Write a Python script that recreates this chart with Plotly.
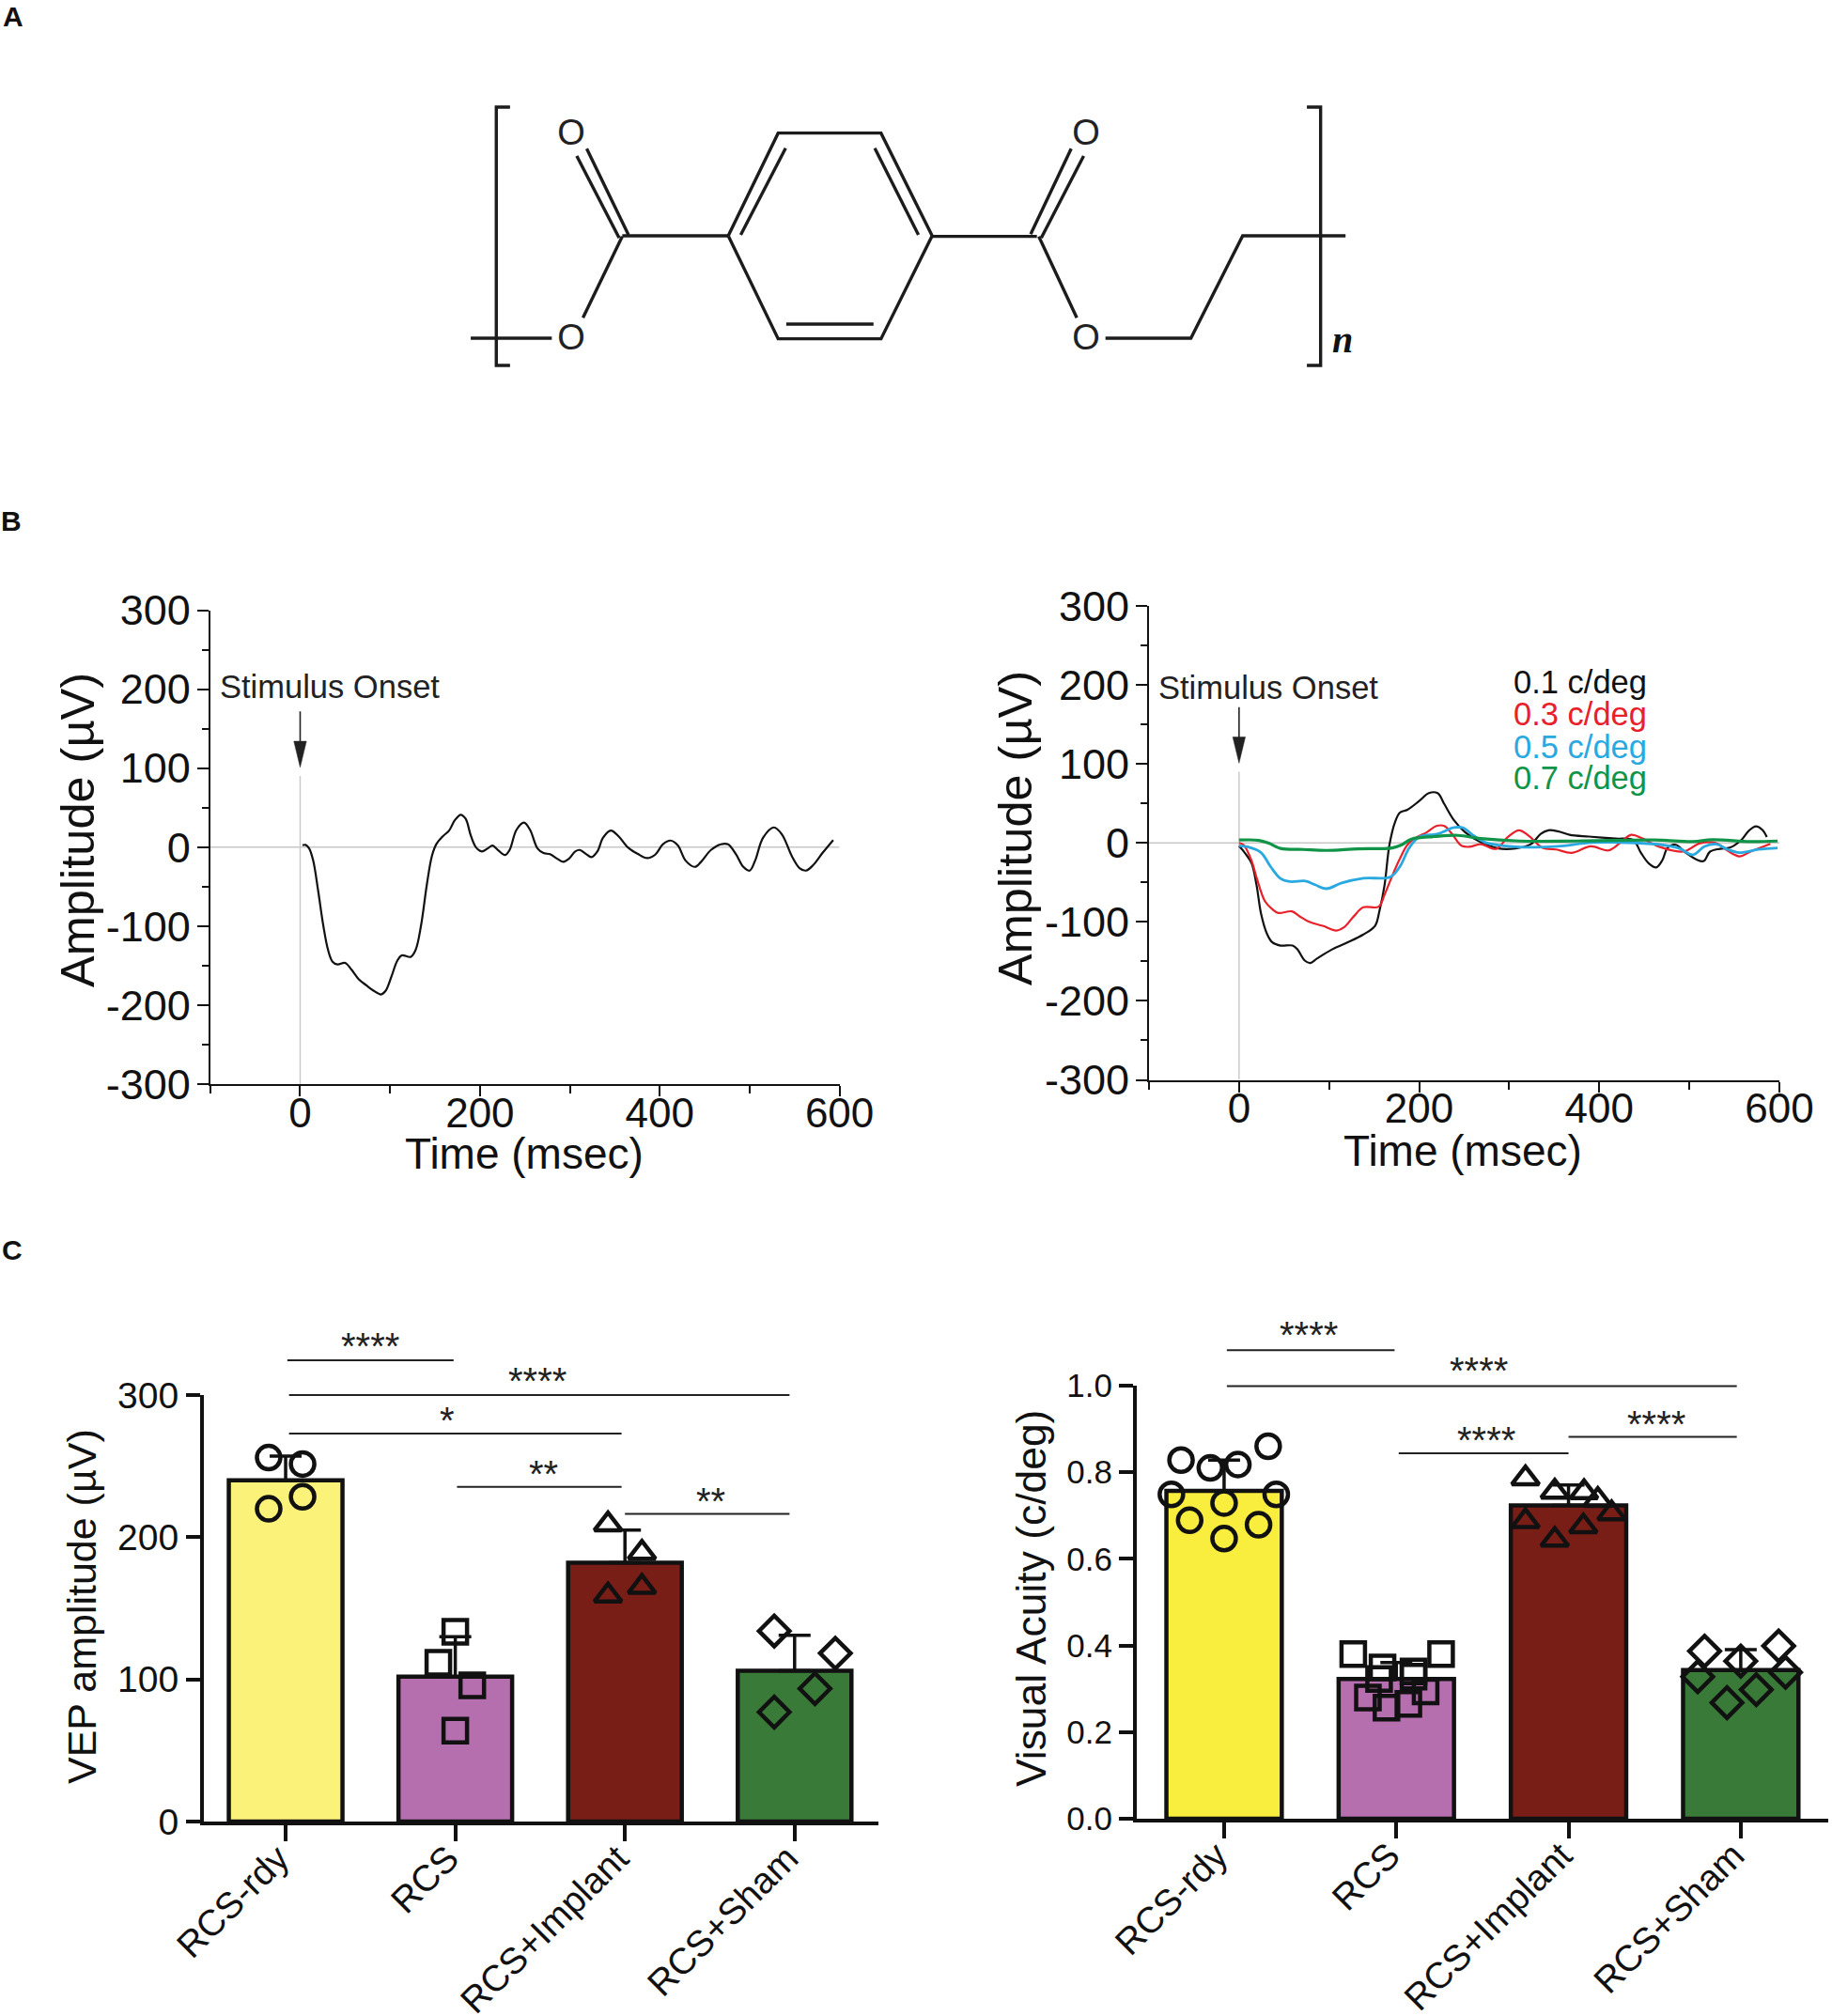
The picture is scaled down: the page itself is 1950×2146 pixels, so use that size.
import plotly.graph_objects as go

W, H = 1950, 2146
FONT = "Liberation Sans"

# ---------- Panel A: structure (bond polylines in the structure axis units)
bonds = [
    [(155,72),(133,72),(133,897),(155,897)],
    [(1433,72),(1455,72),(1455,897),(1433,897)],
    [(92,810),(222,810)],
    [(262,228),(330,490)], [(278,205),(345,480)],
    [(335,485),(272,745)],
    [(335,483),(505,483)],
    [(505,483),(585,155),(750,155),(832,483),(750,812),(585,812),(505,483)],
    [(525,480),(597,203)], [(740,203),(810,480)], [(598,765),(738,765)],
    [(832,485),(1000,485)],
    [(990,478),(1055,205)], [(1007,490),(1075,228)],
    [(1003,485),(1064,745)],
    [(1110,810),(1247,810),(1330,483),(1495,483)],
]
oxygens = [(253,164),(1079,164),(253,817),(1079,817)]

# ---------- Panel B
t_left = [2.6,6,10,14.5,20,25.7,31,36,41.5,50,57,65,73.7,82,90,95,101.5,108,113,123,128.5,134.5,141,146.5,151.6,159,165.7,172,178.6,184,190,195.7,202,208.6,214,220,228,233,240.7,249,255.7,264,270.7,278,286,293,299,306,311,318,324,330.6,337,345.6,354,365,375.7,386,395,403.6,412,420,429,439,446,457,468,476,485,493,500,506,515,527,536,547,555.5,562.7,570.5,581,593]
v_left = [2.4,2.8,-1.6,-17,-55,-99,-130,-145,-148.5,-146.5,-155,-167,-175,-182,-186.5,-182,-164,-144,-137,-139,-130,-99,-47,-11.5,4,14,21,34,41,36,14,-0.4,-5.5,-1.6,2,-3.6,-10,-3.6,22,31,22,-1.6,-7.5,-9,-14.7,-18.6,-14.7,-5.5,-3.6,-8.7,-12.7,-5.5,12,21,14,-0.8,-8.7,-13.9,-9.5,3.6,8.3,2.4,-17.4,-25,-18.6,-3.6,3.6,3.6,-9.5,-25,-29.7,-17.4,12,25,16,-11.5,-26.5,-29.7,-23,-7.5,9]

t_black = [0,7,14,19.5,24.4,31,37,46,59.5,65,73,79,86.5,101.5,118.6,138,151,156,161.5,167,173.4,178.6,187,200,210.7,220.5,228,238.5,251,268.5,288,307,324,335,343.5,354,367,388.4,418.4,437.7,446,455,463.4,470,476,485,495.5,508,516,523,534,545,557.6,566,574,581,586]
v_black = [-4,-13.5,-26,-54,-89.5,-115,-126,-130,-130,-135,-149,-152,-146.5,-136,-127,-116,-105,-85.5,-54,-2.4,27,38.4,42,53,63,63,49,29,13.5,0.8,-7,-7,-1.6,11.5,16,14.7,10.3,8,5.5,3.6,-12,-26,-31,-22,-6,-2.4,-12,-21,-23,-11,-7.5,-6,3.6,15.4,21,16.6,7.5]
t_red = [0,5,13.7,20,28.7,37,43.7,58.7,67,78,93,108,116.5,127,138,155,161.5,170,178.6,187,196,208.6,219,228,236.4,247,255.7,268.5,285.6,298.5,311,322,337,352,369,390.6,410,422.7,435.5,448,465.5,493,512,530,542.6,555.5,568,590]
v_red = [0,-2.4,-22,-46,-73.7,-84,-88.7,-86.7,-92.7,-100,-105,-111,-107,-93.5,-81.6,-80.8,-65.7,-42,-20,-2.4,6.3,13.5,21.4,21.4,11.5,-3.6,-5,-1.6,-7.5,7.5,16,8.7,-6.3,-8.3,-12.7,-4.4,-9.5,-0.4,10.3,5.5,-4.4,-11,-0.4,-0.4,-10,-17,-11,-1.2]
t_blue = [0,9.4,24.4,35,46,56.5,73.7,84.4,97,114,138,168,178.6,189,200,221,238.5,249,260,273,294,324,354,392.7,440,470,489,504,517,530,542.6,555.5,577,598]
v_blue = [-3.6,-5,-12.3,-30,-45,-49,-48.3,-53,-58,-50.7,-44.7,-43,-30,-6.3,7.5,11.5,19.4,19,9.5,0.8,-3.6,-5.5,-4.4,0.4,0,-2.4,-7,-15,-4.4,-1.6,-8.3,-12.3,-8.3,-6.3]
t_green = [0,22,33,46,71.5,97,131.5,170,180.7,191.4,217,243,268.5,311,375.6,461,504,525,568,598]
v_green = [3.6,3.2,-0.4,-7,-8.3,-9.5,-7.5,-6.3,-2.4,4.8,8,9.5,5.5,2.4,2.4,3.6,1.6,4,1.6,2.4]

amp_ticks = [-300,-200,-100,0,100,200,300]
amp_ticktext = ["-300","-200","-100","0","100","200","300"]
legend_labels = ["0.1 c/deg","0.3 c/deg","0.5 c/deg","0.7 c/deg"]
legend_colors = ["#111111","#e8202a","#29a9e0","#0f9448"]
legend_y = [204,163,122,82]

# ---------- Panel C
categories = ["RCS-rdy","RCS","RCS+Implant","RCS+Sham"]
bar_colors_left = ["#fbf27a","#b56fae","#781e16","#3a7a38"]
bar_colors_right = ["#f9ee3d","#b56fae","#781e16","#3a7a38"]
symbols = ["circle-open","square-open","triangle-up-open","diamond-open"]

vep_mean = [240,102,182,106]
vep_err = [17,28,23,25]
vep_pts_x = [[-.1,.1,.1,-.1],[0,-.1,.1,0],[-.1,.1,.1,-.1],[-.12,.24,.12,-.12]]
vep_pts_y = [[256,251.5,228.5,220],[133.4,111.7,95.8,64],[209,189,165,159],[134,118.4,93.5,77]]
vep_sig = [(0.01,0.99,324.5),(0.02,2.97,300),(0.02,1.98,273),(1.01,1.98,235.5),(2.0,2.97,216.5)]
vep_sig_text = ["****","****","*","**","**"]
vep_sig_label_x = [0.499,1.484,0.953,1.52,2.507]
vep_sig_label_y = [334.5,310,282,244.5,225.5]

va_mean = [0.757,0.3225,0.7235,0.3435]
va_err = [0.071,0.038,0.047,0.047]
va_pts_x = [[-.25,-.08,.08,.256,-.306,.303,0,-.2,.2,0],
            [-.25,.26,-.08,.1,-.1,.1,-.165,.17,.07,-.057],
            [-.25,-.08,.09,.17,.25,-.25,.086,-.08],
            [-.21,0,.22,-.25,.26,.09,-.08]]
va_pts_y = [[.828,.81,.818,.86,.749,.749,.729,.689,.679,.647],
            [.38,.38,.349,.34,.3225,.328,.28,.294,.265,.2565],
            [.786,.755,.754,.736,.705,.687,.675,.644],
            [.387,.364,.399,.328,.338,.298,.268]]
va_sig = [(0.016,0.99,1.0817),(0.016,2.977,0.999),(1.014,2.0,0.844),(2.0,2.977,0.882)]
va_sig_text = ["****","****","****","****"]
va_sig_label_x = [0.492,1.477,1.52,2.508]
va_sig_label_y = [1.118,1.035,0.874,0.912]

# arrow marking stimulus onset (msec, µV)
arrow_stem_y = [172,130]
arrow_head_x = [-7,0,7,-7]
arrow_head_y = [134,101,134,134]


def xdom(a, b):
    return [a / W, b / W]

def ydom(top, bottom):
    return [1 - bottom / H, 1 - top / H]

fig = go.Figure()

# ----- structure
for b in bonds:
    fig.add_trace(go.Scatter(x=[p[0] for p in b], y=[p[1] for p in b], mode="lines",
                             line=dict(color="#1c1c1c", width=3.4), xaxis="x", yaxis="y",
                             showlegend=False, hoverinfo="skip"))
fig.add_trace(go.Scatter(x=[p[0] for p in oxygens], y=[p[1] for p in oxygens], mode="text",
                         text=["O"] * 4, textposition="middle center",
                         textfont=dict(family=FONT, size=38, color="#222222"),
                         xaxis="x", yaxis="y", showlegend=False, hoverinfo="skip"))
fig.add_annotation(x=1490, y=816, xref="x", yref="y", text="<b><i>n</i></b>", showarrow=False,
                   font=dict(family="Liberation Serif", size=40, color="#111111"))

# ----- B panels
def vep_panel(xa, ya, curves, stim_y):
    fig.add_trace(go.Scatter(x=[-100, 600], y=[0, 0], mode="lines", line=dict(color="#c8c8c8", width=1.6),
                             xaxis=xa, yaxis=ya, showlegend=False, hoverinfo="skip"))
    fig.add_trace(go.Scatter(x=[0, 0], y=[90, -300], mode="lines", line=dict(color="#c8c8c8", width=1.4),
                             xaxis=xa, yaxis=ya, showlegend=False, hoverinfo="skip"))
    for t, v, c, w in curves:
        fig.add_trace(go.Scatter(x=t, y=v, mode="lines", line=dict(color=c, width=w, shape="spline", smoothing=1.0),
                                 xaxis=xa, yaxis=ya, showlegend=False, hoverinfo="skip"))
    fig.add_trace(go.Scatter(x=[0, 0], y=arrow_stem_y, mode="lines", line=dict(color="#222222", width=1.6),
                             xaxis=xa, yaxis=ya, showlegend=False, hoverinfo="skip"))
    fig.add_trace(go.Scatter(x=arrow_head_x, y=arrow_head_y, mode="lines", fill="toself", fillcolor="#222222",
                             line=dict(color="#222222", width=0.5),
                             xaxis=xa, yaxis=ya, showlegend=False, hoverinfo="skip"))
    fig.add_annotation(x=33, y=stim_y, xref=xa, yref=ya, text="Stimulus Onset", showarrow=False,
                       font=dict(family=FONT, size=34.5, color="#222222"))

vep_panel("x2", "y2", [(t_left, v_left, "#111111", 2.2)], 203)
vep_panel("x3", "y3", [(t_black, v_black, "#111111", 2.2), (t_red, v_red, "#e8202a", 2.2),
                       (t_blue, v_blue, "#29a9e0", 2.8), (t_green, v_green, "#0f9448", 3.2)], 197)
for lab, col, yy in zip(legend_labels, legend_colors, legend_y):
    fig.add_annotation(x=303, y=yy, xref="x3", yref="y3", text=lab, showarrow=False, xanchor="left",
                       font=dict(family=FONT, size=34.5, color=col))

# ----- C panels
def bar_panel(xa, ya, xo, yo, mean, err, colors, ptsx, ptsy, lines, lx, ly, labels):
    fig.add_trace(go.Bar(x=[0, 1, 2, 3], y=mean, width=0.67, xaxis=xa, yaxis=ya,
                         marker=dict(color=colors, line=dict(color="#111111", width=4.5)),
                         error_y=dict(type="data", array=err, arrayminus=[0] * 4, color="#111111", thickness=3.5, width=17),
                         showlegend=False, hoverinfo="skip"))
    for i in range(4):
        fig.add_trace(go.Scatter(x=[i + d for d in ptsx[i]], y=ptsy[i], mode="markers", xaxis=xa, yaxis=ya,
                                 marker=dict(symbol=symbols[i], size=25, color="#111111", line=dict(color="#111111", width=4.5)),
                                 cliponaxis=False, showlegend=False, hoverinfo="skip"))
    for l in lines:
        fig.add_trace(go.Scatter(x=[l[0], l[1]], y=[l[2], l[2]], mode="lines", line=dict(color="#222222", width=2),
                                 xaxis=xo, yaxis=yo, showlegend=False, hoverinfo="skip"))
    for x, y, s in zip(lx, ly, labels):
        fig.add_annotation(x=x, y=y, xref=xo, yref=yo, text=s, showarrow=False,
                           font=dict(family=FONT, size=40, color="#222222"))

bar_panel("x4", "y4", "x7", "y7", vep_mean, vep_err, bar_colors_left, vep_pts_x, vep_pts_y, vep_sig,
          vep_sig_label_x, vep_sig_label_y, vep_sig_text)
bar_panel("x5", "y5", "x8", "y8", va_mean, va_err, bar_colors_right, va_pts_x, va_pts_y, va_sig,
          va_sig_label_x, va_sig_label_y, va_sig_text)

# page-wide helper axis: titles and panel letters
fig.add_trace(go.Scatter(x=[0], y=[0], mode="markers", marker=dict(opacity=0), xaxis="x6", yaxis="y6",
                         showlegend=False, hoverinfo="skip"))
for txt, px, py, sz in [("Amplitude (µV)", 82, 884, 50.5), ("Amplitude (µV)", 1080, 882, 50.5),
                        ("VEP amplitude (µV)", 87, 1710, 43), ("Visual Acuity (c/deg)", 1097, 1702, 44.4)]:
    fig.add_annotation(x=px, y=py, xref="x6", yref="y6", text=txt, textangle=-90, showarrow=False,
                       font=dict(family=FONT, size=sz, color="#111111"))
for txt, px, py in [("Time (msec)", 558, 1228), ("Time (msec)", 1557, 1225)]:
    fig.add_annotation(x=px, y=py, xref="x6", yref="y6", text=txt, showarrow=False,
                       font=dict(family=FONT, size=46, color="#111111"))
for lab, px, py in [("A", 14, 17), ("B", 12, 554), ("C", 13, 1330)]:
    fig.add_annotation(x=px, y=py, xref="x6", yref="y6", text="<b>%s</b>" % lab, showarrow=False,
                       font=dict(family=FONT, size=30, color="#111111"))

# ----- axes
def b_axes(xd, yd, xn, yn):
    xax = dict(domain=xd, anchor=yn, range=[-100, 600], tickmode="array", tickvals=[0, 200, 400, 600], showgrid=False, zeroline=False,
               showline=True, linecolor="#111111", linewidth=2, ticks="outside", ticklen=11, tickwidth=2, tickcolor="#111111",
               minor=dict(tickmode="array", tickvals=[-100, 100, 300, 500], ticks="outside", ticklen=8, tickwidth=2, tickcolor="#111111", showgrid=False),
               tickfont=dict(family=FONT, size=44, color="#111111"), ticklabelstandoff=-20, automargin=False)
    yax = dict(domain=yd, anchor=xn, range=[-300, 300], tickmode="array", tickvals=amp_ticks, ticktext=amp_ticktext, showgrid=False, zeroline=False,
               showline=True, linecolor="#111111", linewidth=2, ticks="outside", ticklen=12, tickwidth=2, tickcolor="#111111",
               minor=dict(tickmode="array", tickvals=[-250, -150, -50, 50, 150, 250], ticks="outside", ticklen=7, tickwidth=2, tickcolor="#111111", showgrid=False),
               tickfont=dict(family=FONT, size=45, color="#111111"), ticklabelstandoff=-2, automargin=False)
    return xax, yax

def c_axes(xd, yd, xr, yr, ticks, fmt, xn, yn, yfont):
    # the trailing no-break space slides the rotated label back along its baseline
    xax = dict(domain=xd, anchor=yn, range=xr, tickmode="array", tickvals=[0, 1, 2, 3], ticktext=[c + "\u00a0" for c in categories], tickangle=-45,
               showgrid=False, zeroline=False, showline=True, linecolor="#111111", linewidth=4,
               ticks="outside", ticklen=17, tickwidth=4, tickcolor="#111111", automargin=False, ticklabelstandoff=-28,
               tickfont=dict(family=FONT, size=39, color="#111111"))
    yax = dict(domain=yd, anchor=xn, range=yr, tickmode="array", tickvals=ticks, tickformat=fmt, showgrid=False, zeroline=False,
               showline=True, linecolor="#111111", linewidth=4, ticks="outside", ticklen=15, tickwidth=4, tickcolor="#111111", automargin=False,
               tickfont=dict(family=FONT, size=yfont, color="#111111"))
    return xax, yax

xr_left = [-0.482, 3.494]
xr_right = [-0.507, 3.508]
xb1, yb1 = b_axes(xdom(223.8, 893.6), ydom(649.5, 1154), "x2", "y2")
xb2, yb2 = b_axes(xdom(1223, 1894), ydom(645, 1149.5), "x3", "y3")
xc1, yc1 = c_axes(xdom(217, 935), ydom(1485, 1939), xr_left, [0, 300], [0, 100, 200, 300], "d", "x4", "y4", 39)
xc2, yc2 = c_axes(xdom(1210, 1946), ydom(1475, 1936), xr_right, [0, 1], [0, .2, .4, .6, .8, 1.0], ".1f", "x5", "y5", 35)

hidden = dict(visible=False, automargin=False)
fig.update_layout(
    template="none",
    width=W, height=H, margin=dict(l=0, r=0, t=0, b=0, pad=0), paper_bgcolor="white", plot_bgcolor="rgba(0,0,0,0)",
    showlegend=False, bargap=0.33,
    xaxis=dict(domain=xdom(440, 1480), anchor="y", range=[0, 1567], **hidden),
    yaxis=dict(domain=ydom(90, 430), anchor="x", range=[1020, 0], **hidden),
    xaxis2=xb1, yaxis2=yb1, xaxis3=xb2, yaxis3=yb2,
    xaxis4=xc1, yaxis4=yc1, xaxis5=xc2, yaxis5=yc2,
    xaxis6=dict(domain=[0, 1], anchor="y6", range=[0, W], **hidden),
    yaxis6=dict(domain=[0, 1], anchor="x6", range=[H, 0], **hidden),
    xaxis7=dict(domain=xdom(217, 935), anchor="y7", range=xr_left, **hidden),
    yaxis7=dict(domain=ydom(1400, 1939), anchor="x7", range=[0, 356.2], **hidden),
    xaxis8=dict(domain=xdom(1210, 1946), anchor="y8", range=xr_right, **hidden),
    yaxis8=dict(domain=ydom(1400, 1936), anchor="x8", range=[0, 1.1627], **hidden),
)
fig.write_html("out.html", config=dict(displayModeBar=False), post_script="document.body.style.margin='0';")
